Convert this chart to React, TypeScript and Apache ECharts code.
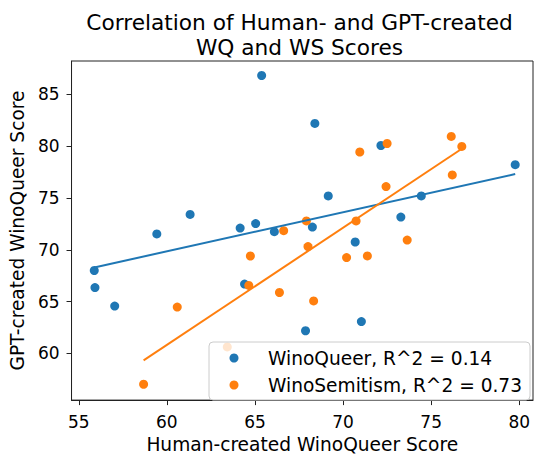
import React, { useEffect, useRef } from "react";
import * as echarts from "echarts";

const titleText = "Correlation of Human- and GPT-created\nWQ and WS Scores";
const xAxisLabel = "Human-created WinoQueer Score";
const yAxisLabel = "GPT-created WinoQueer Score";
const xTicks = [55, 60, 65, 70, 75, 80];
const yTicks = [60, 65, 70, 75, 80, 85];

const wqName = "WinoQueer, R^2 = 0.14";
const wsName = "WinoSemitism, R^2 = 0.73";

const wqHuman = [65.38, 61.32, 59.43, 64.16, 65.04, 66.1, 68.4, 72.15, 79.77, 69.16, 74.44, 68.26, 73.28, 55.88, 55.92, 57.04, 64.41, 67.87, 71.04, 70.69];
const wqGpt = [86.81, 73.41, 71.53, 72.09, 72.53, 71.75, 82.19, 80.06, 78.21, 75.19, 75.19, 72.19, 73.15, 68.0, 66.35, 64.57, 66.69, 62.19, 63.07, 70.75];

const wsHuman = [66.63, 72.5, 70.95, 76.14, 76.74, 76.2, 72.44, 67.92, 70.74, 60.59, 64.74, 64.65, 66.39, 58.68, 68.33, 70.2, 71.38, 73.64, 68.01, 63.43];
const wsGpt = [71.84, 80.25, 79.43, 80.93, 79.97, 77.22, 76.1, 72.78, 72.78, 64.47, 69.4, 66.56, 65.88, 57.03, 65.07, 69.25, 69.41, 70.94, 70.31, 60.63];

const BLUE = "#1f77b4";
const ORANGE = "#ff7f0e";
const FONT = "DejaVu Sans";

function fitLine(xs: number[], ys: number[]): number[][] {
  const n = xs.length;
  const mx = xs.reduce((a, b) => a + b, 0) / n;
  const my = ys.reduce((a, b) => a + b, 0) / n;
  let sxy = 0;
  let sxx = 0;
  for (let i = 0; i < n; i++) {
    sxy += (xs[i] - mx) * (ys[i] - my);
    sxx += (xs[i] - mx) * (xs[i] - mx);
  }
  const b = sxy / sxx;
  const a = my - b * mx;
  const x0 = Math.min(...xs);
  const x1 = Math.max(...xs);
  return [
    [x0, a + b * x0],
    [x1, a + b * x1],
  ];
}

function zip(xs: number[], ys: number[]): number[][] {
  return xs.map((x, i) => [x, ys[i]]);
}

export default function App() {
  const ref = useRef<HTMLDivElement>(null);
  useEffect(() => {
    document.body.style.margin = "0";
    if (!ref.current) return;
    const chart = echarts.init(ref.current, null, { renderer: "svg" });
    const axisCommon = {
      type: "value" as const,
      splitLine: { show: false },
      axisLine: { show: true, lineStyle: { color: "#222", width: 1 } },
      axisTick: {
        show: true,
        length: 5,
        lineStyle: { color: "#222", width: 1 },
      },
      nameLocation: "middle" as const,
      nameTextStyle: { fontFamily: FONT, fontSize: 18.6, color: "#000" },
    };
    chart.setOption({
      animation: false,
      backgroundColor: "#fff",
      title: {
        text: titleText,
        left: 299.5,
        top: 9.5,
        textAlign: "center",
        padding: 0,
        textStyle: {
          fontFamily: FONT,
          fontSize: 21.7,
          fontWeight: "normal",
          color: "#000",
          lineHeight: 25,
        },
      },
      grid: {
        left: 66,
        right: 3,
        top: 61,
        bottom: 49,
        show: true,
        borderColor: "#222",
        borderWidth: 1,
        backgroundColor: "transparent",
      },
      legend: {
        data: [
          { name: wqName, icon: "circle" },
          { name: wsName, icon: "circle" },
        ],
        orient: "vertical",
        left: 209,
        top: 342,
        itemWidth: 9,
        itemHeight: 9,
        itemGap: 7,
        padding: [6, 8, 5, 20.5],
        backgroundColor: "rgba(255,255,255,0.8)",
        borderColor: "#cccccc",
        borderWidth: 1,
        borderRadius: 4,
        textStyle: {
          fontFamily: FONT,
          fontSize: 18.6,
          color: "#000",
          lineHeight: 20,
          padding: [0, 0, 0, 24.5],
        },
      },
      xAxis: {
        ...axisCommon,
        min: 54.59,
        max: 80.78,
        name: xAxisLabel,
        nameGap: 30,
        axisTick: { ...axisCommon.axisTick, customValues: xTicks },
        axisLabel: {
          customValues: xTicks,
          margin: 13,
          fontFamily: FONT,
          fontSize: 17,
          color: "#000",
        },
      },
      yAxis: {
        ...axisCommon,
        min: 55.5,
        max: 88.21,
        name: yAxisLabel,
        nameGap: 36,
        axisTick: { ...axisCommon.axisTick, customValues: yTicks },
        axisLabel: {
          customValues: yTicks,
          margin: 12,
          fontFamily: FONT,
          fontSize: 17,
          color: "#000",
        },
      },
      series: [
        {
          name: wqName,
          type: "scatter",
          data: zip(wqHuman, wqGpt),
          symbol: "circle",
          symbolSize: 9,
          itemStyle: { color: BLUE, opacity: 1 },
          z: 2,
        },
        {
          name: wsName,
          type: "scatter",
          data: zip(wsHuman, wsGpt),
          symbol: "circle",
          symbolSize: 9,
          itemStyle: { color: ORANGE, opacity: 1 },
          z: 2,
        },
        {
          name: "wqFit",
          type: "line",
          data: fitLine(wqHuman, wqGpt),
          showSymbol: false,
          symbol: "none",
          lineStyle: { color: BLUE, width: 2 },
          itemStyle: { color: BLUE },
          z: 3,
        },
        {
          name: "wsFit",
          type: "line",
          data: fitLine(wsHuman, wsGpt),
          showSymbol: false,
          symbol: "none",
          lineStyle: { color: ORANGE, width: 2 },
          itemStyle: { color: ORANGE },
          z: 3,
        },
      ],
    });
    return () => chart.dispose();
  }, []);
  return <div ref={ref} style={{ width: 536, height: 459 }} />;
}
